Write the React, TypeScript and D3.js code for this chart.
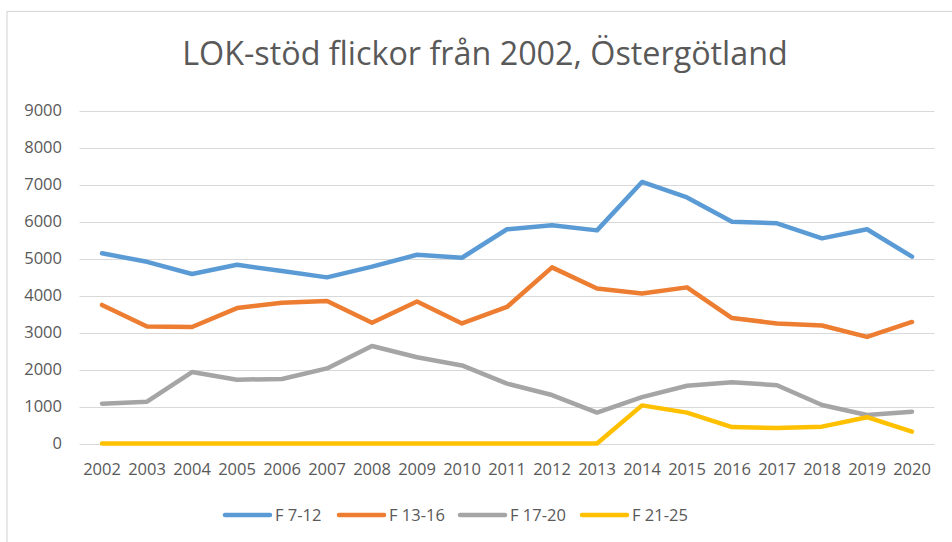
import React from "react";
import * as d3 from "d3";

const years = ["2002","2003","2004","2005","2006","2007","2008","2009","2010","2011","2012","2013","2014","2015","2016","2017","2018","2019","2020"];
const f7_12 = [5140,4910,4580,4830,4660,4490,4780,5100,5020,5790,5900,5760,7070,6650,5995,5950,5545,5790,5050];
const f13_16 = [3745,3160,3150,3660,3805,3850,3265,3840,3245,3690,4760,4190,4055,4220,3390,3245,3190,2880,3285];
const f17_20 = [1075,1130,1930,1725,1745,2030,2635,2330,2110,1620,1310,835,1255,1560,1655,1575,1040,770,860];
const f21_25 = [0,0,0,0,0,0,0,0,0,0,0,0,1030,835,445,420,455,710,320];
const yTicks = [0,1000,2000,3000,4000,5000,6000,7000,8000,9000];
const seriesNames = ["F 7-12","F 13-16","F 17-20","F 21-25"];
const seriesColors = ["#5B9BD5","#ED7D31","#A5A5A5","#FFC000"];
const seriesValues = [f7_12, f13_16, f17_20, f21_25];

const W = 952, H = 542;
const FONT = "'Open Sans', 'Noto Sans', sans-serif";
const TXT = "#595959";

export default function App() {
  const x = d3.scaleBand<string>().domain(years).range([79.5, 934.5]);
  const y = d3.scaleLinear().domain([0, 9000]).range([443.5, 110.5]);
  const xc = (yr: string) => (x(yr) as number) + x.bandwidth() / 2;
  const line = d3.line<number>()
    .x((_, i) => xc(years[i]))
    .y((v) => y(v));
  const legendX = [223, 337, 458, 580];
  return (
    <svg width={W} height={H} style={{ position: "absolute", left: 0, top: 0, background: "#fff" }}>
      <rect x={7} y={11.5} width={960} height={560} fill="#fff" stroke="#d9d9d9" strokeWidth={1.2} />
      <text x={485} y={65} textAnchor="middle" fontFamily={FONT} fontSize={32.3} fill={TXT}>
        LOK-stöd flickor från 2002, Östergötland
      </text>
      {yTicks.map((t) => (
        <g key={t}>
          <line x1={79.5} x2={934.5} y1={Math.round(y(t)) + 0.5} y2={Math.round(y(t)) + 0.5} stroke="#d9d9d9" strokeWidth={1.2} />
          <text x={62} y={y(t)} dy="0.36em" textAnchor="end" fontFamily={FONT} fontSize={16.5} fill={TXT}>{t}</text>
        </g>
      ))}
      {years.map((yr) => (
        <text key={yr} x={xc(yr)} y={474.5} textAnchor="middle" fontFamily={FONT} fontSize={16.5} fill={TXT}>{yr}</text>
      ))}
      {seriesValues.map((vals, i) => (
        <path key={i} d={line(vals) as string} fill="none" stroke={seriesColors[i]} strokeWidth={4.5}
          strokeLinejoin="round" strokeLinecap="round" />
      ))}
      {seriesNames.map((n, i) => (
        <g key={n}>
          <line x1={legendX[i] + 2} x2={legendX[i] + 47} y1={515} y2={515} stroke={seriesColors[i]} strokeWidth={4.5} strokeLinecap="round" />
          <text x={legendX[i] + 52} y={515} dy="0.36em" fontFamily={FONT} fontSize={16.5} fill={TXT}>{n}</text>
        </g>
      ))}
    </svg>
  );
}
